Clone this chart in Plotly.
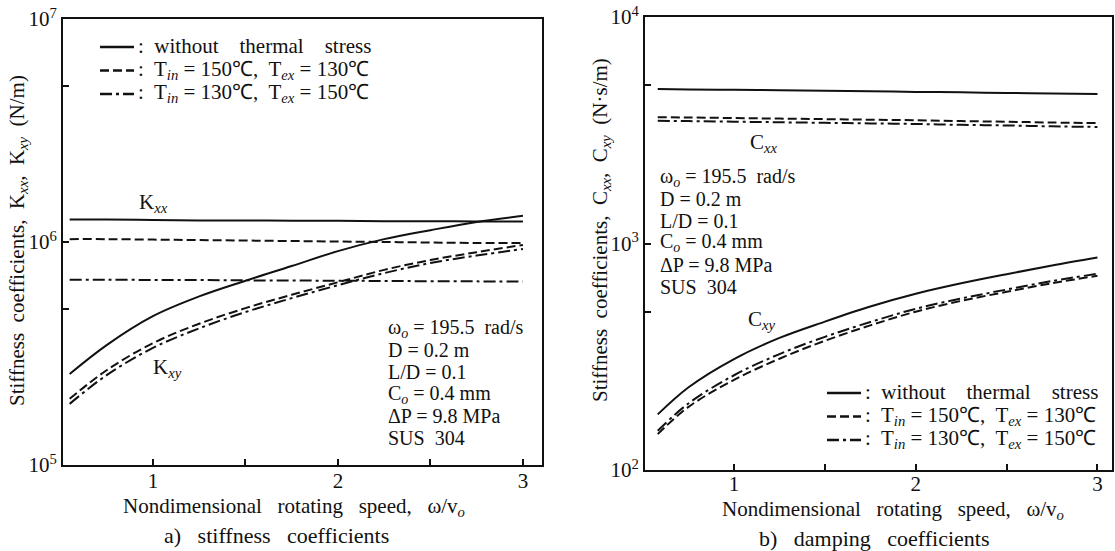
import plotly.graph_objects as go

# ---------------- data ----------------
X_K = [0.55, 0.75, 1.0, 1.25, 1.5, 1.75, 2.0, 2.25, 2.5, 2.75, 3.0]
KXX_NO = [1.26e6, 1.26e6, 1.255e6, 1.25e6, 1.25e6, 1.245e6, 1.245e6, 1.24e6, 1.24e6, 1.235e6, 1.235e6]
KXX_150 = [1.03e6, 1.03e6, 1.025e6, 1.02e6, 1.015e6, 1.01e6, 1.005e6, 1.0e6, 0.995e6, 0.99e6, 0.99e6]
KXX_130 = [6.78e5, 6.77e5, 6.76e5, 6.75e5, 6.73e5, 6.72e5, 6.7e5, 6.69e5, 6.67e5, 6.66e5, 6.65e5]
KXY_NO = [2.56e5, 3.45e5, 4.65e5, 5.7e5, 6.7e5, 7.8e5, 9.1e5, 1.03e6, 1.13e6, 1.23e6, 1.31e6]
KXY_150 = [1.98e5, 2.66e5, 3.52e5, 4.3e5, 5.05e5, 5.8e5, 6.6e5, 7.5e5, 8.3e5, 9.0e5, 9.7e5]
KXY_130 = [1.88e5, 2.53e5, 3.35e5, 4.1e5, 4.85e5, 5.6e5, 6.4e5, 7.25e5, 8.05e5, 8.7e5, 9.3e5]

X_C = [0.58, 0.75, 1.0, 1.25, 1.5, 1.75, 2.0, 2.25, 2.5, 2.75, 3.0]
CXX_NO = [4810, 4790, 4770, 4750, 4720, 4700, 4670, 4650, 4620, 4600, 4570]
CXX_150 = [3610, 3600, 3580, 3560, 3540, 3520, 3500, 3470, 3450, 3420, 3400]
CXX_130 = [3480, 3470, 3450, 3430, 3410, 3390, 3370, 3340, 3320, 3290, 3270]
CXY_NO = [176, 232, 309, 383, 452, 527, 600, 667, 732, 800, 868]
CXY_150 = [144, 190, 250, 310, 372, 435, 500, 558, 612, 668, 720]
CXY_130 = [149, 197, 262, 325, 387, 450, 515, 572, 626, 683, 735]

X_TICKS = [1, 1.5, 2, 2.5, 3]
X_TICKTEXT = ["1", "", "2", "", "3"]
K_TICKS = [1e5, 5e5, 1e6, 5e6, 1e7]
K_TICKTEXT = ["10<sup>5</sup>", "", "10<sup>6</sup>", "", "10<sup>7</sup>"]
C_TICKS = [1e2, 5e2, 1e3, 5e3, 1e4]
C_TICKTEXT = ["10<sup>2</sup>", "", "10<sup>3</sup>", "", "10<sup>4</sup>"]

NB = "\u00a0"
SP = NB + NB + " "
SP1 = NB + " "
LEG_NAMES = [
    ":" + NB + " without" + SP + NB + "thermal" + SP + NB + "stress",
    ":" + NB + " T<sub><i>in</i></sub> = 150℃," + NB + " T<sub><i>ex</i></sub> = 130℃",
    ":" + NB + " T<sub><i>in</i></sub> = 130℃," + NB + " T<sub><i>ex</i></sub> = 150℃",
]
PARAMS = [
    "ω<sub><i>o</i></sub> = 195.5" + NB + " rad/s",
    "D = 0.2 m",
    "L/D = 0.1",
    "C<sub><i>o</i></sub> = 0.4 mm",
    "ΔP = 9.8 MPa",
    "SUS" + NB + " 304",
]

# ---------------- style ----------------
W, H = 1115, 551
FONT = "Liberation Serif"
INK = "#111111"
DASHES = ["solid", "9px,4px", "12px,4px,3px,4px"]


def px(x):
    return x / W


def py(y):
    return 1 - y / H


fig = go.Figure()

k_sets = [(KXX_NO, KXY_NO), (KXX_150, KXY_150), (KXX_130, KXY_130)]
c_sets = [(CXX_NO, CXY_NO), (CXX_150, CXY_150), (CXX_130, CXY_130)]

for i, (kxx, kxy) in enumerate(k_sets):
    for yy in (kxx, kxy):
        fig.add_trace(go.Scatter(x=X_K, y=yy, mode="lines", name=LEG_NAMES[i],
                                 line=dict(color=INK, width=2, dash=DASHES[i], shape="spline"),
                                 xaxis="x", yaxis="y", showlegend=False))
for i, (cxx, cxy) in enumerate(c_sets):
    for yy in (cxx, cxy):
        fig.add_trace(go.Scatter(x=X_C, y=yy, mode="lines", name=LEG_NAMES[i],
                                 line=dict(color=INK, width=2, dash=DASHES[i], shape="spline"),
                                 xaxis="x2", yaxis="y2", showlegend=False))

axis_common = dict(showline=True, linewidth=2, linecolor=INK, mirror=True,
                   showgrid=False, zeroline=False, ticks="inside", ticklen=6,
                   tickwidth=2, tickcolor=INK, automargin=False,
                   tickfont=dict(family=FONT, size=21, color=INK))

fig.update_layout(
    width=W, height=H,
    margin=dict(l=0, r=0, t=0, b=0, autoexpand=False),
    paper_bgcolor="white", plot_bgcolor="white",
    font=dict(family=FONT, size=20, color=INK),
    showlegend=False,
    xaxis=dict(domain=[px(63), px(542)], range=[0.514, 3.103], anchor="y",
               tickvals=X_TICKS, ticktext=X_TICKTEXT, ticklabelstandoff=-4, **axis_common),
    yaxis=dict(domain=[py(465), py(19)], type="log", range=[5, 7], anchor="x",
               tickvals=K_TICKS, ticktext=K_TICKTEXT, **axis_common),
    xaxis2=dict(domain=[px(645), px(1112)], range=[0.51, 3.08], anchor="y2",
                tickvals=X_TICKS, ticktext=X_TICKTEXT, ticklabelstandoff=-6, **axis_common),
    yaxis2=dict(domain=[py(470), py(17)], type="log", range=[2, 4], anchor="x2",
                tickvals=C_TICKS, ticktext=C_TICKTEXT, **axis_common),
)

ann = []
shapes = []


def txt(x, y, s, size=21, xanchor="center", angle=0):
    ann.append(dict(x=px(x), y=py(y), xref="paper", yref="paper", text=s,
                    showarrow=False, xanchor=xanchor, yanchor="middle",
                    textangle=angle, font=dict(family=FONT, size=size, color=INK)))


# legends (sample line + text), one per panel
def legend(x0, y0, dy, width):
    for i, name in enumerate(LEG_NAMES):
        y = y0 + dy * i
        shapes.append(dict(type="line", xref="paper", yref="paper",
                           x0=px(x0), x1=px(x0 + width), y0=py(y), y1=py(y),
                           line=dict(color=INK, width=2.5, dash=DASHES[i])))
        txt(x0 + width + 2, y - 1, name, size=21, xanchor="left")


legend(100, 47, 23.5, 34)
legend(827, 393, 23.5, 34)

# axis titles and captions
xt = "Nondimensional" + SP + "rotating" + SP + "speed," + SP + "ω/v<sub><i>o</i></sub>"
txt(294, 507, xt, size=21)
txt(276, 535, "a)" + SP + "stiffness" + SP + "coefficients", size=22)
txt(893, 510, xt, size=21)
txt(874, 538, "b)" + SP + "damping" + SP + "coefficients", size=22)
txt(18, 241, "Stiffness" + SP1 + "coefficients," + SP1 + "K<sub><i>xx</i></sub>," + SP1 +
    "K<sub><i>xy</i></sub>" + SP1 + "(N/m)", size=21, angle=-90)
txt(601, 230, "Stiffness" + SP1 + "coefficients," + SP1 + "C<sub><i>xx</i></sub>," + SP1 +
    "C<sub><i>xy</i></sub>" + SP1 + "(N·s/m)", size=21, angle=-90)

# curve labels
txt(153, 203, "K<sub><i>xx</i></sub>")
txt(167, 368, "K<sub><i>xy</i></sub>")
txt(764, 143, "C<sub><i>xx</i></sub>")
txt(762, 320, "C<sub><i>xy</i></sub>")

# parameter blocks
for j, s in enumerate(PARAMS):
    txt(386, 328 + 22 * j, s, size=20, xanchor="left")
    txt(658, 177 + 22 * j, s, size=20, xanchor="left")

fig.update_layout(annotations=ann, shapes=shapes)
fig.write_html("out.html",
               config={"displayModeBar": False},
               post_script="document.body.style.margin='0';"
                           "document.body.style.overflow='hidden';")
